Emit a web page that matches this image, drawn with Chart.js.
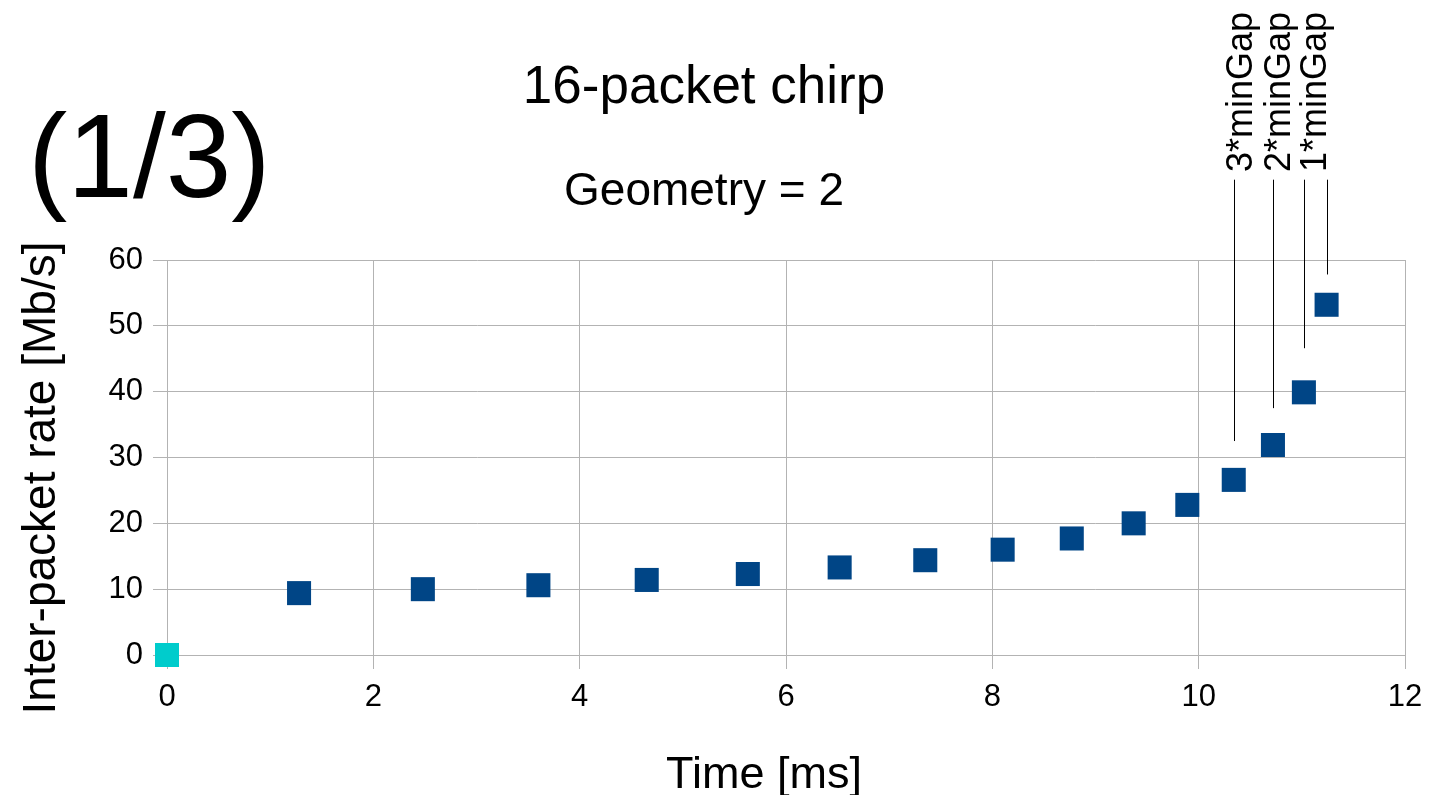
<!DOCTYPE html>
<html>
<head>
<meta charset="utf-8">
<script src="https://cdn.jsdelivr.net/npm/chart.js@4.4.1/dist/chart.umd.min.js"></script>
<style>
  html, body { margin: 0; padding: 0; background: #fff; }
  #wrap { width: 1443px; height: 795px; }
</style>
</head>
<body>
<div id="wrap"><canvas id="chirp-chart"></canvas></div>
<script>
const startTime = [0];
const startRate = [0];
const chirpTime = [1.28, 2.48, 3.60, 4.65, 5.63, 6.52, 7.35, 8.10, 8.77, 9.37, 9.89, 10.34, 10.72, 11.02, 11.24];
const chirpRate = [9.4, 10.0, 10.6, 11.4, 12.3, 13.3, 14.4, 16.0, 17.7, 20.0, 22.8, 26.6, 31.9, 39.9, 53.2];
const gapLabels = ["3*minGap", "2*minGap", "1*minGap", ""];
const gapLineLow = [32.5, 37.5, 46.6, 57.8];
const gapLineHigh = 72.2;

const FONT = "'Liberation Sans', Arial, sans-serif";
const GRID = "#b3b3b3";

const to_points = (xs, ys) => xs.map((x, i) => ({ x: x, y: ys[i] }));

// marker lines over the last chirp points, with rotated labels
const gapMarks = {
  id: "gapMarks",
  afterDatasetsDraw(chart) {
    const { ctx, scales } = chart;
    const times = chirpTime.slice(-gapLabels.length);
    const shift = [17, 16, 21, 0];
    ctx.save();
    ctx.strokeStyle = "#000";
    ctx.lineWidth = 1;
    times.forEach((t, i) => {
      const px = Math.round(scales.x.getPixelForValue(t)) + 0.5;
      ctx.beginPath();
      ctx.moveTo(px, scales.y.getPixelForValue(gapLineHigh));
      ctx.lineTo(px, scales.y.getPixelForValue(gapLineLow[i]));
      ctx.stroke();
      if (gapLabels[i]) {
        ctx.save();
        ctx.translate(px + shift[i], 172);
        ctx.rotate(-Math.PI / 2);
        ctx.font = `36px ${FONT}`;
        ctx.fillStyle = "#000";
        ctx.textAlign = "left";
        ctx.textBaseline = "alphabetic";
        ctx.fillText(gapLabels[i], 0, 0);
        ctx.restore();
      }
    });
    ctx.restore();
  },
};

const textLayer = {
  id: "textLayer",
  afterDraw(chart) {
    const { ctx } = chart;
    ctx.save();
    ctx.fillStyle = "#000";
    ctx.textBaseline = "alphabetic";
    ctx.textAlign = "left";
    ctx.font = `118px ${FONT}`;
    ctx.fillText("(1/3)", 28, 197);
    ctx.textAlign = "center";
    ctx.font = `53px ${FONT}`;
    ctx.fillText("16-packet chirp", 704, 103);
    ctx.font = `46px ${FONT}`;
    ctx.fillText("Geometry = 2", 704, 205);
    ctx.font = `45px ${FONT}`;
    ctx.fillText("Time [ms]", 764, 788);
    ctx.translate(55, 478);
    ctx.rotate(-Math.PI / 2);
    ctx.font = `46px ${FONT}`;
    ctx.fillText("Inter-packet rate [Mb/s]", 0, 0);
    ctx.restore();
  },
};

const axis_style = () => ({
  grid: { color: GRID, lineWidth: 1, tickLength: 14, tickColor: GRID },
  border: { color: GRID, width: 1 },
  ticks: { color: "#000", font: { family: FONT, size: 31 }, padding: 10 },
});

const config = {
  type: "scatter",
  data: {
    datasets: [
      {
        label: "start",
        data: to_points(startTime, startRate),
        pointStyle: "rect",
        pointRadius: 17,
        pointHoverRadius: 17,
        backgroundColor: "#00cccc",
        borderColor: "#00cccc",
        borderWidth: 0,
        clip: false,
      },
      {
        label: "chirp",
        data: to_points(chirpTime, chirpRate),
        pointStyle: "rect",
        pointRadius: 17,
        pointHoverRadius: 17,
        backgroundColor: "#004586",
        borderColor: "#004586",
        borderWidth: 0,
        clip: false,
      },
    ],
  },
  options: {
    responsive: false,
    animation: false,
    devicePixelRatio: 1,
    layout: { padding: { top: 260, right: 38, left: 0, bottom: 0 } },
    plugins: { legend: { display: false }, tooltip: { enabled: false } },
    scales: {
      x: {
        type: "linear",
        min: 0,
        max: 12,
        ...axis_style(),
        ticks: { ...axis_style().ticks, stepSize: 2 },
        afterFit: (scale) => { scale.height = 140; },
      },
      y: {
        type: "linear",
        min: 0,
        max: 60,
        ...axis_style(),
        ticks: { ...axis_style().ticks, stepSize: 10 },
        afterFit: (scale) => { scale.width = 167; },
      },
    },
  },
  plugins: [gapMarks, textLayer],
};

const canvas = document.getElementById("chirp-chart");
canvas.width = 1443;
canvas.height = 795;
new Chart(canvas, config);
</script>
</body>
</html>
